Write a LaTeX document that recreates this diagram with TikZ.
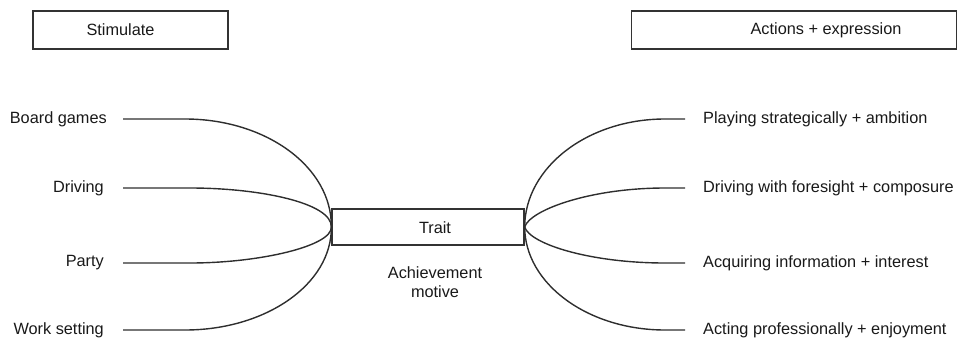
\documentclass[tikz,border=0pt]{standalone}
\usepackage{fontspec}
\setmainfont{Liberation Sans}
\begin{document}
\begin{tikzpicture}[x=1pt,y=-1pt,
  every node/.style={font=\fontsize{16.3}{19}\selectfont, text=black!90},
  framebox/.style={draw=black!80, line width=1.3pt, rectangle, inner sep=0pt},
  label/.style={inner sep=0pt},
  link/.style={draw=black!82, line width=1.4pt}]
\useasboundingbox (0,0) rectangle (958,343);

% header boxes
\node[framebox, minimum width=195pt, minimum height=38pt] (stimbox) at (130.5,30) {};
\node[label] (stimtext) at (120.5,30) {Stimulate};
\node[framebox, minimum width=325pt, minimum height=38pt] (actbox) at (794,30) {};
\node[label] (acttext) at (826,30) {Actions + expression};

% central trait box
\node[framebox, minimum width=192pt, minimum height=36pt] (trait) at (428,227) {};
\node[label] (traittext) at (435,228) {Trait};
\node[label, align=center] (motive) at (435,282) {Achievement\\motive};

% situations on the left
\node[label, anchor=east] (board) at (107,119) {Board games};
\node[label, anchor=east] (drive) at (104,188) {Driving};
\node[label, anchor=east] (party) at (104,263) {Party};
\node[label, anchor=east] (work)  at (104,330) {Work setting};
\coordinate (boardL) at (123,119);
\coordinate (driveL) at (123,188);
\coordinate (partyL) at (123,263);
\coordinate (workL)  at (123,330);

% actions on the right
\node[label, anchor=west] (play) at (703,119) {Playing strategically + ambition};
\node[label, anchor=west] (fore) at (703,188) {Driving with foresight + composure};
\node[label, anchor=west] (info) at (703,263) {Acquiring information + interest};
\node[label, anchor=west] (prof) at (703,330) {Acting professionally + enjoyment};
\coordinate (playR) at (685,119);
\coordinate (foreR) at (685,188);
\coordinate (infoR) at (685,263);
\coordinate (profR) at (685,330);

% left fan
\draw[link] (boardL) -- (185,119) .. controls (266,119) and (332,167) .. (trait.west);
\draw[link] (driveL) -- (190,188) .. controls (260,188) and (332,203) .. (trait.west);
\draw[link] (partyL) -- (190,263) .. controls (260,263) and (332,246) .. (trait.west);
\draw[link] (workL)  -- (185,330) .. controls (266,330) and (332,284) .. (trait.west);

% right fan
\draw[link] (trait.east) .. controls (525,167) and (588,119) .. (665,119) -- (playR);
\draw[link] (trait.east) .. controls (530,210) and (590,188) .. (665,188) -- (foreR);
\draw[link] (trait.east) .. controls (530,244) and (590,263) .. (665,263) -- (infoR);
\draw[link] (trait.east) .. controls (525,284) and (588,330) .. (665,330) -- (profR);
\end{tikzpicture}
\end{document}
